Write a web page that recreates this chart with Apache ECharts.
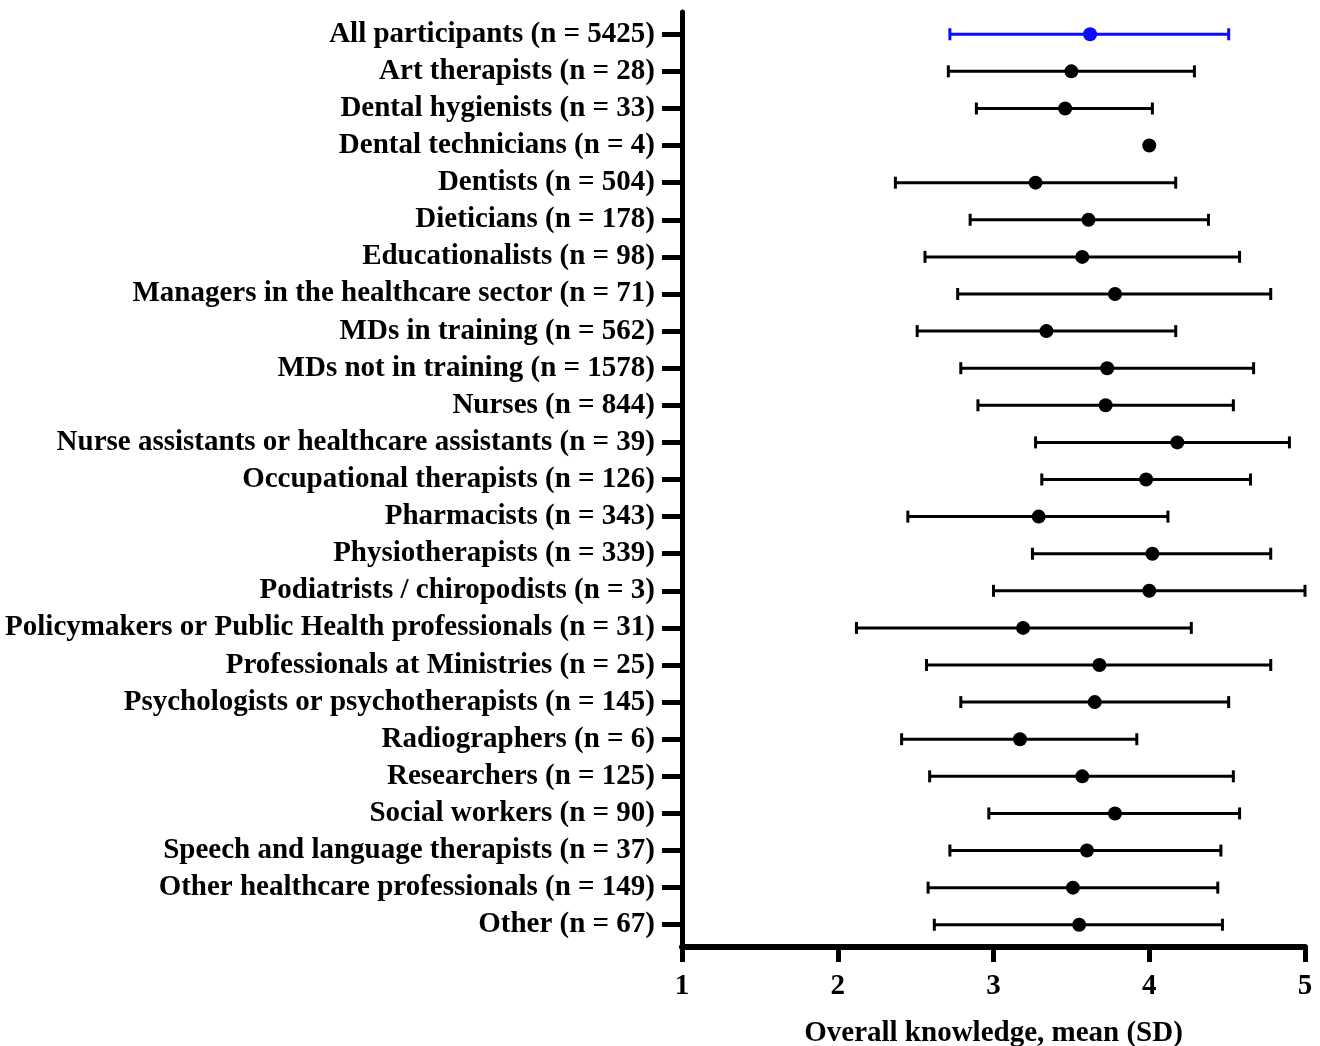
<!DOCTYPE html>
<html>
<head>
<meta charset="utf-8">
<script src="https://cdn.jsdelivr.net/npm/echarts@6/dist/echarts.min.js"></script>
<style>
  html, body { margin: 0; padding: 0; background: #fff; }
  #chart { width: 1320px; height: 1046px; }
</style>
</head>
<body>
<div id="chart"></div>
<script>
// groups, top to bottom
const categories = [
  'All participants (n = 5425)',
  'Art therapists (n = 28)',
  'Dental hygienists (n = 33)',
  'Dental technicians (n = 4)',
  'Dentists (n = 504)',
  'Dieticians (n = 178)',
  'Educationalists (n = 98)',
  'Managers in the healthcare sector (n = 71)',
  'MDs in training (n = 562)',
  'MDs not in training (n = 1578)',
  'Nurses (n = 844)',
  'Nurse assistants or healthcare assistants (n = 39)',
  'Occupational therapists (n = 126)',
  'Pharmacists (n = 343)',
  'Physiotherapists (n = 339)',
  'Podiatrists / chiropodists (n = 3)',
  'Policymakers or Public Health professionals (n = 31)',
  'Professionals at Ministries (n = 25)',
  'Psychologists or psychotherapists (n = 145)',
  'Radiographers (n = 6)',
  'Researchers (n = 125)',
  'Social workers (n = 90)',
  'Speech and language therapists (n = 37)',
  'Other healthcare professionals (n = 149)',
  'Other (n = 67)'
];

// mean and mean -/+ SD
const means = [3.62, 3.50, 3.46, 4.00, 3.27, 3.61, 3.57, 3.78, 3.34, 3.73, 3.72, 4.18, 3.98,
  3.29, 4.02, 4.00, 3.19, 3.68, 3.65, 3.17, 3.57, 3.78, 3.60, 3.51, 3.55];
const lower = [2.72, 2.71, 2.89, 4.00, 2.37, 2.85, 2.56, 2.77, 2.51, 2.79, 2.90, 3.27, 3.31,
  2.45, 3.25, 3.00, 2.12, 2.57, 2.79, 2.41, 2.59, 2.97, 2.72, 2.58, 2.62];
const upper = [4.51, 4.29, 4.02, 4.00, 4.17, 4.38, 4.58, 4.78, 4.17, 4.67, 4.54, 4.90, 4.65,
  4.12, 4.78, 5.00, 4.27, 4.78, 4.51, 3.92, 4.54, 4.58, 4.46, 4.44, 4.47];

const xTicks = [1, 2, 3, 4, 5];
const rowIdx = categories.map((c, i) => i);

const chart = echarts.init(document.getElementById('chart'));
const font = '"Liberation Serif", "Times New Roman", serif';
const colorOf = i => (i === 0 ? '#0a0aff' : '#000');

const barData = categories.map((c, i) => [lower[i], upper[i], i]);
const dotData = categories.map((c, i) => ({
  value: [means[i], i],
  itemStyle: { color: colorOf(i), opacity: 1 }
}));

const option = {
  animation: false,
  backgroundColor: '#fff',
  grid: { left: 682, right: 15, top: 12, bottom: 99, outerBoundsMode: 'none', containLabel: false },
  xAxis: {
    type: 'value',
    min: xTicks[0],
    max: xTicks[xTicks.length - 1],
    interval: 1,
    name: 'Overall knowledge, mean (SD)',
    nameLocation: 'middle',
    nameGap: 72,
    nameTextStyle: { fontFamily: font, fontWeight: 'bold', fontSize: 29, color: '#000' },
    axisLine: { show: true, onZero: false, lineStyle: { color: '#000', width: 6 } },
    axisTick: { show: true, length: 15, lineStyle: { color: '#000', width: 5 } },
    axisLabel: { fontFamily: font, fontWeight: 'bold', fontSize: 29, color: '#000', margin: 25 },
    splitLine: { show: false }
  },
  yAxis: {
    type: 'value',
    inverse: true,
    min: -0.6,
    max: 24.6,
    axisLine: { show: true, onZero: false, lineStyle: { color: '#000', width: 5 } },
    axisTick: { show: true, customValues: rowIdx, length: 20, lineStyle: { color: '#000', width: 5 } },
    axisLabel: {
      customValues: rowIdx,
      formatter: v => categories[v],
      fontFamily: font, fontWeight: 'bold', fontSize: 29, color: '#000', margin: 27
    },
    splitLine: { show: false }
  },
  series: [
    {
      type: 'custom',
      data: barData,
      encode: { x: [0, 1], y: 2 },
      renderItem: function (params, api) {
        const i = api.value(2);
        const lo = api.value(0), hi = api.value(1);
        if (lo === hi) return null;
        const p1 = api.coord([lo, i]);
        const p2 = api.coord([hi, i]);
        const cap = 6;
        const style = { stroke: colorOf(i), lineWidth: 3 };
        return {
          type: 'group',
          children: [
            { type: 'line', shape: { x1: p1[0], y1: p1[1], x2: p2[0], y2: p2[1] }, style: style },
            { type: 'line', shape: { x1: p1[0], y1: p1[1] - cap, x2: p1[0], y2: p1[1] + cap }, style: style },
            { type: 'line', shape: { x1: p2[0], y1: p2[1] - cap, x2: p2[0], y2: p2[1] + cap }, style: style }
          ]
        };
      },
      z: 2
    },
    {
      type: 'scatter',
      data: dotData,
      symbol: 'circle',
      symbolSize: 14,
      z: 3
    }
  ]
};

chart.setOption(option);
</script>
</body>
</html>
